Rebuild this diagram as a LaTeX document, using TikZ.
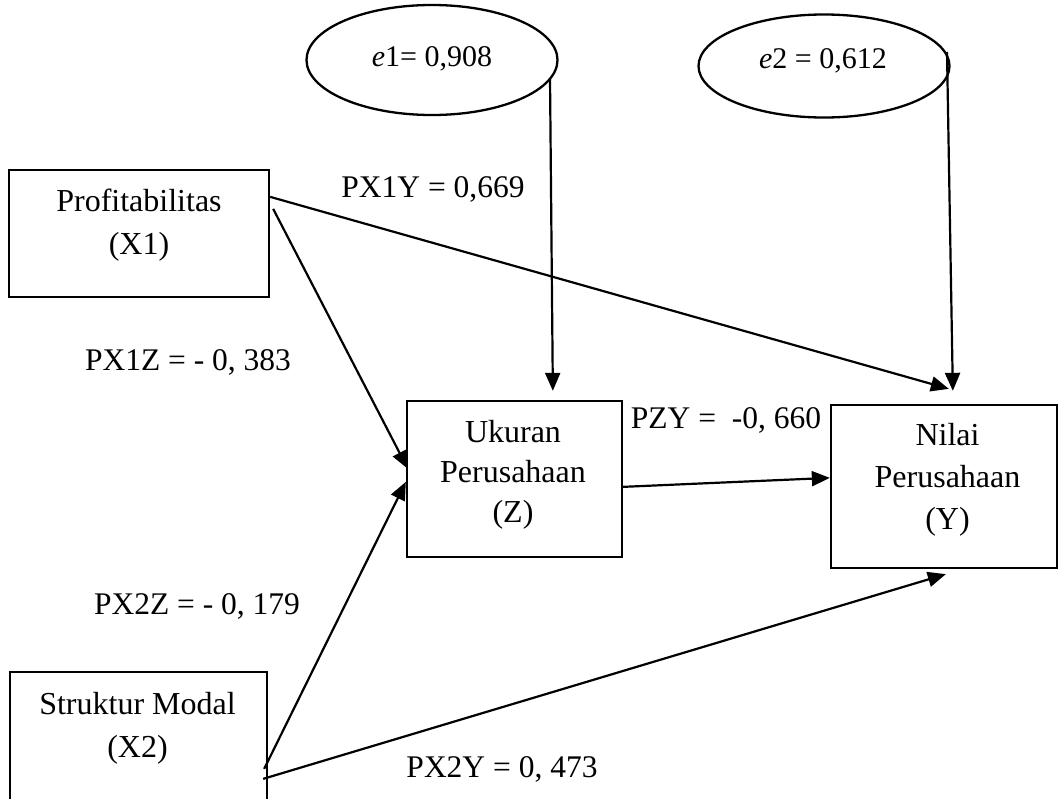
\documentclass[tikz,border=0pt]{standalone}
\usepackage{fontspec}
\setmainfont{Liberation Serif}
\usetikzlibrary{arrows.meta,shapes.geometric,calc}
\begin{document}
\begin{tikzpicture}[x=1pt,y=-1pt,
  box/.style={draw, line width=2.3pt, rectangle, inner sep=0pt},
  err/.style={draw, line width=2.3pt, ellipse, inner sep=0pt},
  boxtext/.style={anchor=north, inner sep=0pt, align=center},
  coef/.style={anchor=base, inner sep=0pt, font=\fontsize{31.5}{38}\selectfont},
  errtext/.style={anchor=base, inner sep=0pt, font=\fontsize{30}{36}\selectfont},
  link/.style={line width=2.2pt, -{Triangle[length=18pt,width=15pt]}}
]
\useasboundingbox (0,0) rectangle (1059,798);
\clip (0,0) rectangle (1059,798);

% variable boxes
\node[box, minimum width=260pt, minimum height=127pt] (x1) at (139,233.5) {};
\node[box, minimum width=215pt, minimum height=156pt] (z) at (514.5,479) {};
\node[box, minimum width=226pt, minimum height=163pt] (y) at (944,486.5) {};
\node[box, minimum width=257pt, minimum height=158pt] (x2) at (138.5,751) {};

% box captions
\node[boxtext, font=\fontsize{32}{43}\selectfont] (x1t) at (139,189) {Profitabilitas\\(X1)};
\node[boxtext, font=\fontsize{32}{40}\selectfont] (zt) at (513,420) {Ukuran\\Perusahaan\\(Z)};
\node[boxtext, font=\fontsize{32}{42}\selectfont] (yt) at (947.5,423) {Nilai\\Perusahaan\\(Y)};
\node[boxtext, font=\fontsize{32}{43}\selectfont] (x2t) at (137.5,692) {Struktur Modal\\(X2)};

% error terms
\node[err, minimum width=251pt, minimum height=110pt] (e1) at (432,60) {};
\node[err, minimum width=251pt, minimum height=103pt] (e2) at (824,66) {};
\node[errtext] (e1t) at (432,66) {\textit{e}1= 0,908};
\node[errtext] (e2t) at (823,68) {\textit{e}2 = 0,612};

% paths
\draw[link] ($(x1.north east)+(0,28)$) -- ($(y.north west)+(119,-15)$);
\draw[link] ($(x1.north east)+(3,40)$) -- ($(z.north west)+(2,69)$);
\draw[link] ($(x2.north east)+(-4,98)$) -- ($(z.north west)+(0,82)$);
\draw[link] ($(x2.north east)+(-5,108)$) -- ($(y.south west)+(116,5)$);
\draw[link] ($(z.north east)+(0,87)$) -- ($(y.north west)+(0,74)$);
\draw[link] ($(e1.center)+(118,18)$) -- ($(z.north west)+(147,-9)$);
\draw[link] ($(e2.center)+(123,-14)$) -- ($(y.north west)+(123,-13)$);

% path coefficients
\node[coef] (c1) at (433,197) {PX1Y = 0,669};
\node[coef] (c2) at (188,370) {PX1Z = - 0, 383};
\node[coef] (c3) at (726,428) {PZY = \ -0, 660};
\node[coef] (c4) at (197,614) {PX2Z = - 0, 179};
\node[coef] (c5) at (502,777) {PX2Y = 0, 473};
\end{tikzpicture}
\end{document}
